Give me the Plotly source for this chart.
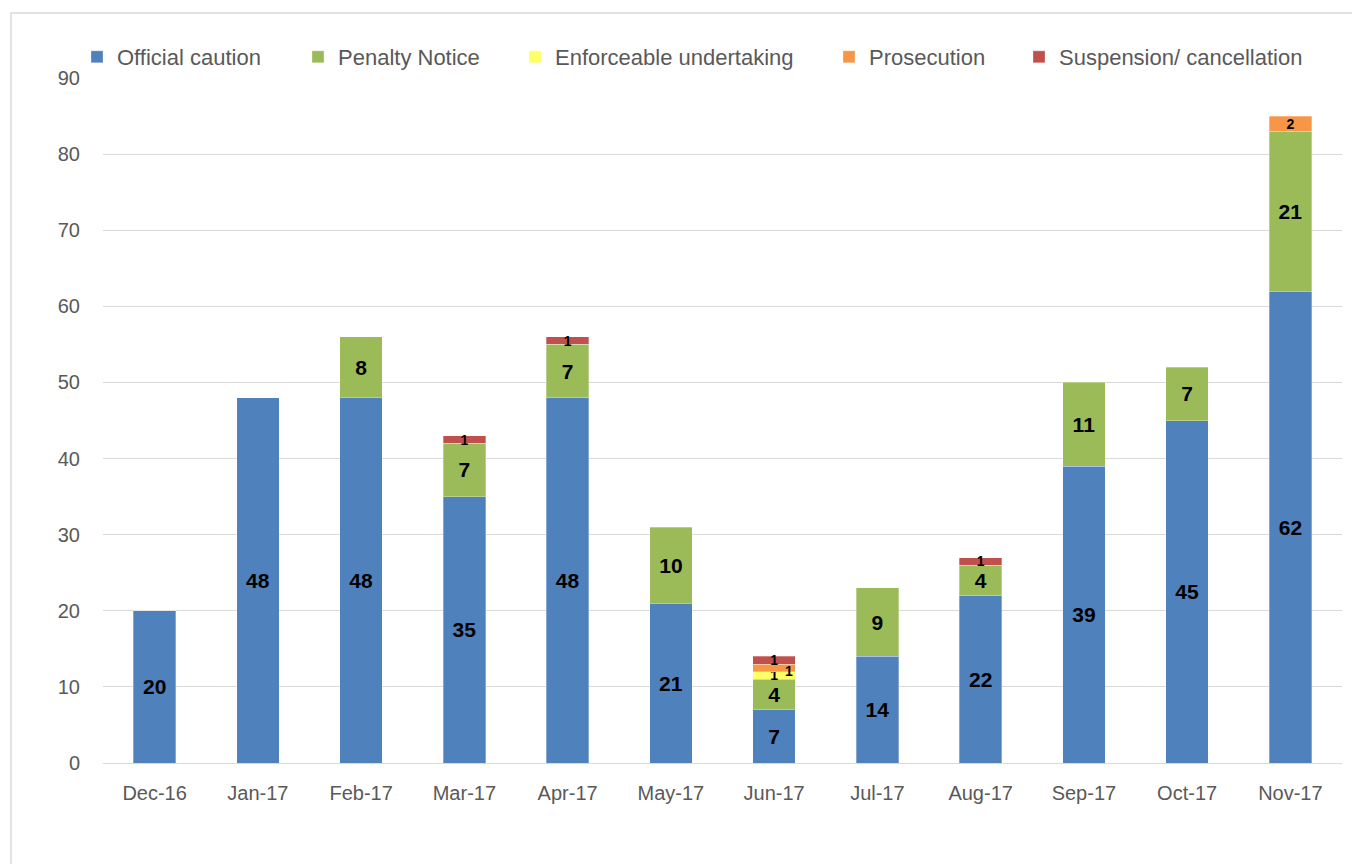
import plotly.graph_objects as go

months = ["Dec-16", "Jan-17", "Feb-17", "Mar-17", "Apr-17", "May-17",
          "Jun-17", "Jul-17", "Aug-17", "Sep-17", "Oct-17", "Nov-17"]

official_caution = [20, 48, 48, 35, 48, 21, 7, 14, 22, 39, 45, 62]
penalty_notice = [None, None, 8, 7, 7, 10, 4, 9, 4, 11, 7, 21]
enforceable_undertaking = [None, None, None, None, None, None, 1, None, None, None, None, None]
prosecution = [None, None, None, None, None, None, 1, None, None, None, None, 2]
suspension = [None, None, None, 1, 1, None, 1, None, 1, None, None, None]

series = [
    ("Official caution", official_caution, "#4f81bd"),
    ("Penalty Notice", penalty_notice, "#9bbb59"),
    ("Enforceable undertaking", enforceable_undertaking, "#ffff66"),
    ("Prosecution", prosecution, "#f79646"),
    ("Suspension/ cancellation", suspension, "#c0504d"),
]

# the page body has an 8px margin, so the figure is drawn 8px in from the corner
OFF = 8
W, H = 1360 - OFF, 864 - OFF
ML, MR, MT, MB = 103 - OFF, 18, 78 - OFF, 101
plot_w = W - ML - MR
plot_h = H - MT - MB
legend_px = [77, 298, 515, 829, 1019]  # left edge of each legend entry (page px)

fig = go.Figure()
for i, (name, vals, color) in enumerate(series):
    labels = [str(v) if v is not None else "" for v in vals]
    sizes = [14 if (v is not None and v <= 2) else 21 for v in vals]
    if name == "Prosecution":
        # crowded Jun-17 stack: this label is set aside as an annotation below
        labels[months.index("Jun-17")] = ""
    fig.add_trace(go.Bar(
        x=months, y=vals, name=name, showlegend=True,
        legend="legend" if i == 0 else f"legend{i + 1}",
        marker=dict(color=color, line=dict(color="rgba(255,255,255,0.6)", width=0.5)),
        text=labels,
        textposition="inside",
        insidetextanchor="middle",
        textangle=0,
        constraintext="none",
        textfont=dict(family="Liberation Sans, Arial", color="black", size=sizes,
                      weight="bold"),
        hoverinfo="x+y+name",
    ))

# Jun-17 prosecution label, nudged right as in the reference
j = months.index("Jun-17")
base = sum(s[1][j] or 0 for s in series[:3])
fig.add_annotation(
    x=months[j], y=base + prosecution[j] / 2, text=str(prosecution[j]),
    showarrow=False, xshift=15, yshift=-3,
    font=dict(family="Liberation Sans, Arial", color="black", size=14, weight="bold"),
)

legends = {}
for i, px in enumerate(legend_px):
    key = "legend" if i == 0 else f"legend{i + 1}"
    legends[key] = dict(
        x=(px - 103) / plot_w, y=(763 - 57) / plot_h,
        xanchor="left", yanchor="middle",
        font=dict(size=22, color="#595959"),
        bgcolor="rgba(0,0,0,0)",
    )

fig.update_layout(
    barmode="stack",
    bargap=0.59,
    width=W, height=H,
    margin=dict(l=ML, r=MR, t=MT, b=MB),
    showlegend=True,
    plot_bgcolor="white",
    paper_bgcolor="white",
    font=dict(family="Liberation Sans, Arial", color="#595959", size=20),
    xaxis=dict(
        showgrid=False, showline=True, linecolor="#d9d9d9", linewidth=1,
        ticks="", tickfont=dict(size=20, color="#595959"), automargin=False,
        ticklabelstandoff=12,
    ),
    yaxis=dict(
        range=[0, 90], dtick=10, showgrid=True, gridcolor="#d9d9d9",
        gridwidth=1, zeroline=False, showline=False, ticks="",
        tickfont=dict(size=20, color="#595959"), ticklabelstandoff=22,
        automargin=False,
    ),
    **legends,
)

# outer chart frame
fig.add_shape(type="rect", xref="paper", yref="paper",
              x0=(11 - 103) / plot_w, x1=(1358 - 103) / plot_w,
              y0=(763 - 880) / plot_h, y1=(763 - 13) / plot_h,
              line=dict(color="#d9d9d9", width=1.5), fillcolor="rgba(0,0,0,0)",
              layer="below")

fig.write_html("out.html")
